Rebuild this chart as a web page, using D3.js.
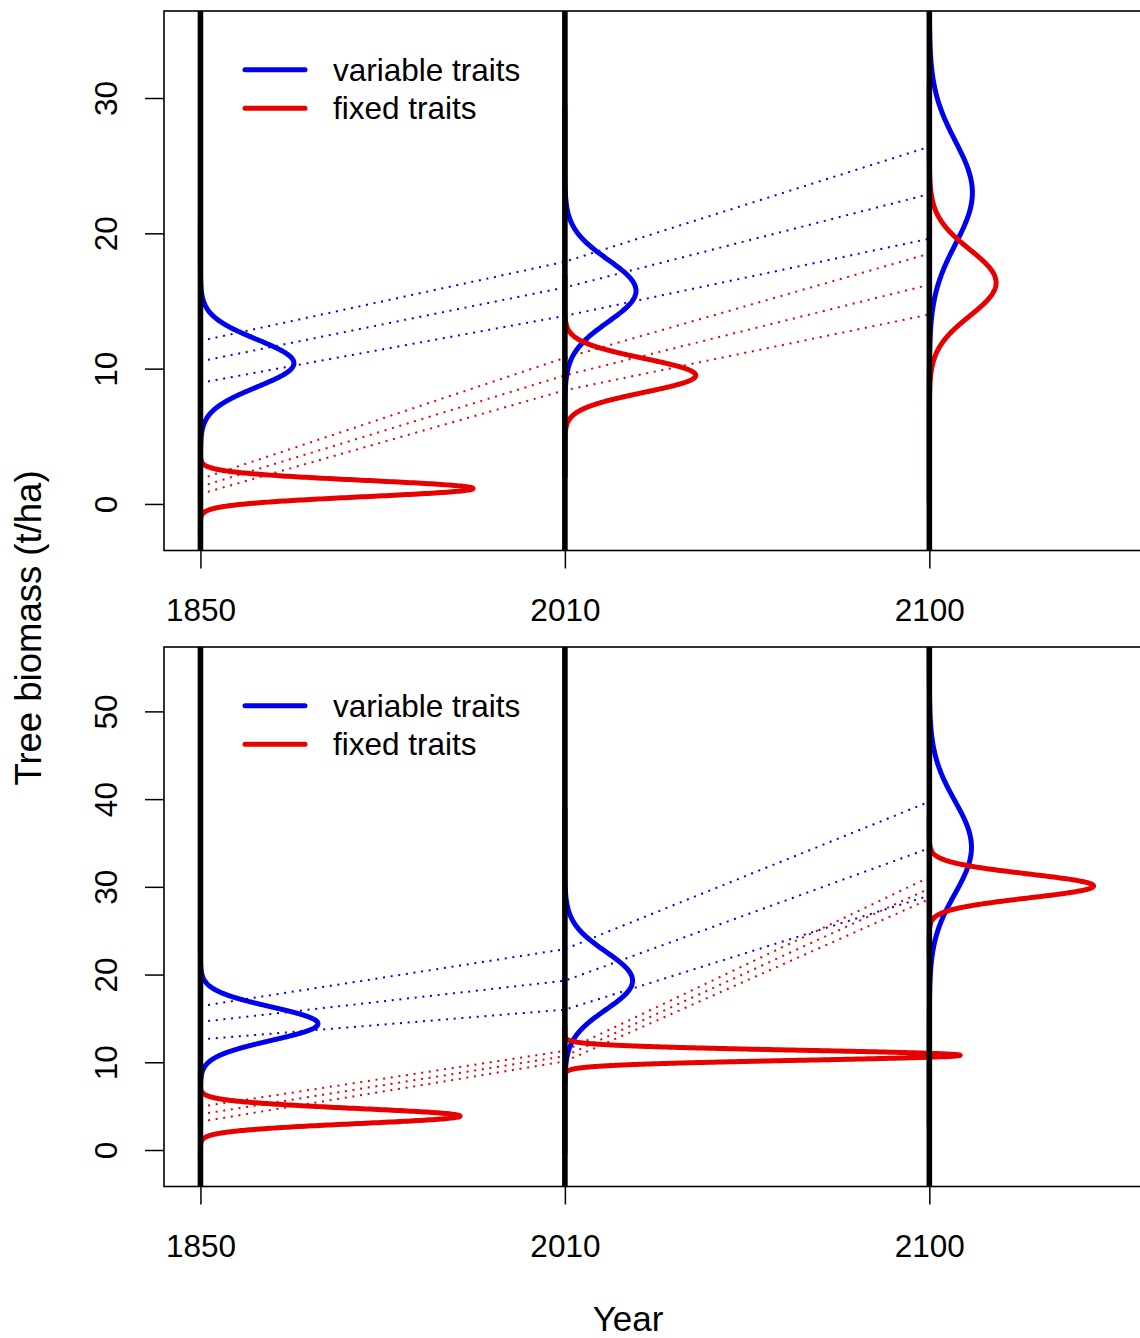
<!DOCTYPE html>
<html>
<head>
<meta charset="utf-8">
<script src="https://cdn.jsdelivr.net/npm/d3@7"></script>
<style>
body { margin: 0; background: #fff; }
text { font-family: "Liberation Sans", Arial, Helvetica, sans-serif; fill: #000; }
</style>
</head>
<body>
<div id="chart-area"></div>
<script>
// time points (drawn at equal spacing)
var years = ["1850", "2010", "2100"];
var seriesNames = ["variable traits", "fixed traits"];
var seriesColors = ["#0000ee", "#e60000"];

// top panel: distributions of tree biomass (t/ha), mean and sd per year
var topBlueMean = [10.4, 15.75, 23.0];
var topBlueSd = [1.75, 2.3, 3.8];
var topRedMean = [1.14, 9.5, 16.35];
var topRedSd = [0.6, 1.25, 2.45];
// quantile lines per year: [upper, middle, lower]
var topBlueQuant = [[12.05, 10.54, 8.95], [17.9, 16.0, 13.9], [26.4, 22.9, 19.6]];
var topRedQuant = [[1.85, 1.28, 0.74], [10.8, 9.5, 8.4], [18.5, 16.2, 14.0]];
var topTicks = [0, 10, 20, 30];
var topYlim = [-3.44, 36.43];
var topDensScale = 1.125;

// bottom panel
var botBlueMean = [14.4, 19.3, 34.5];
var botBlueSd = [1.9, 3.3, 5.3];
var botRedMean = [3.87, 10.8, 30.1];
var botRedSd = [0.86, 0.565, 1.36];
var botBlueQuant = [[16.4, 14.6, 12.6], [22.9, 19.3, 16.0], [39.7, 34.4, 29.0]];
var botRedQuant = [[4.94, 4.07, 3.23], [11.3, 10.7, 10.1], [31.1, 29.8, 28.6]];
var botTicks = [0, 10, 20, 30, 40, 50];
var botYlim = [-4.16, 57.34];
var botDensScale = 1.536;

var width = 1140, height = 1338;
var plotLeft = 164, plotRight = 1148;
var fontSize = 31.5;

var svg = d3.select("#chart-area").append("svg")
	.attr("width", width).attr("height", height);

var x = d3.scaleLinear().domain([0.9, 3.6]).range([plotLeft, plotRight]);

var panels = [
	{ top: 11, bottom: 550.5, ylim: topYlim, ticks: topTicks, k: topDensScale,
	  series: [
		{ mean: topBlueMean, sd: topBlueSd, quant: topBlueQuant },
		{ mean: topRedMean, sd: topRedSd, quant: topRedQuant } ] },
	{ top: 647, bottom: 1186.5, ylim: botYlim, ticks: botTicks, k: botDensScale,
	  series: [
		{ mean: botBlueMean, sd: botBlueSd, quant: botBlueQuant },
		{ mean: botRedMean, sd: botRedSd, quant: botRedQuant } ] }
];

function dnorm(v, m, s) {
	return Math.exp(-0.5 * ((v - m) / s) * ((v - m) / s)) / (s * Math.sqrt(2 * Math.PI));
}

panels.forEach((p, pi) => {
	var y = d3.scaleLinear().domain(p.ylim).range([p.bottom, p.top]);
	var g = svg.append("g");

	var clipId = "clip" + pi;
	g.append("clipPath").attr("id", clipId).append("rect")
		.attr("x", plotLeft).attr("y", p.top)
		.attr("width", plotRight - plotLeft).attr("height", p.bottom - p.top);

	var inner = g.append("g").attr("clip-path", "url(#" + clipId + ")");

	// dotted quantile lines between years
	p.series.forEach((s, si) => {
		for (var q = 0; q < 3; q++) {
			var pts = s.quant.map((d, t) => [x(t + 1), y(d[q])]);
			inner.append("path")
				.attr("d", d3.line()(pts))
				.attr("fill", "none")
				.attr("stroke", seriesColors[si])
				.attr("stroke-width", 2)
				.attr("stroke-dasharray", "2,5.7");
		}
	});

	// sideways density curves
	p.series.forEach((s, si) => {
		s.mean.forEach((m, t) => {
			var sd = s.sd[t];
			var vals = d3.range(m - 6 * sd, m + 6 * sd, sd / 40);
			var line = d3.line()
				.x(v => x(t + 1 + dnorm(v, m, sd) * p.k))
				.y(v => y(v));
			inner.append("path")
				.attr("d", line(vals))
				.attr("fill", "none")
				.attr("stroke", seriesColors[si])
				.attr("stroke-width", 5)
				.attr("stroke-linejoin", "round");
		});
	});

	// vertical year lines
	inner.selectAll(".yearline").data(years).enter().append("line")
		.attr("class", "yearline")
		.attr("x1", (d, i) => x(i + 1)).attr("x2", (d, i) => x(i + 1))
		.attr("y1", p.top).attr("y2", p.bottom)
		.attr("stroke", "#000").attr("stroke-width", 5.6);

	// box
	g.append("rect")
		.attr("x", plotLeft).attr("y", p.top)
		.attr("width", plotRight - plotLeft).attr("height", p.bottom - p.top)
		.attr("fill", "none").attr("stroke", "#000").attr("stroke-width", 1.6);

	// y axis
	var yAxisGroup = g.append("g").attr("transform", "translate(" + plotLeft + ",0)")
		.call(d3.axisLeft(y).tickValues(p.ticks).tickSize(19).tickFormat(d3.format("d")));
	yAxisGroup.select(".domain").remove();
	yAxisGroup.selectAll("line").attr("stroke-width", 1.5);
	yAxisGroup.selectAll("text")
		.attr("x", 0).attr("dy", 0)
		.attr("text-anchor", "middle")
		.attr("transform", "translate(-47,0) rotate(-90)")
		.attr("font-size", fontSize)
		.style("font-family", "'Liberation Sans', Arial, sans-serif");

	// x axis
	var xAxisGroup = g.append("g").attr("transform", "translate(0," + p.bottom + ")")
		.call(d3.axisBottom(x).tickValues([1, 2, 3]).tickSize(18).tickPadding(30)
			.tickFormat((d, i) => years[i]));
	xAxisGroup.select(".domain").remove();
	xAxisGroup.selectAll("line").attr("stroke-width", 1.5);
	xAxisGroup.selectAll("text")
		.attr("font-size", fontSize)
		.style("font-family", "'Liberation Sans', Arial, sans-serif");

	// legend
	var legend = g.append("g").attr("transform", "translate(245," + (p.top + 58.8) + ")");
	seriesNames.forEach((name, i) => {
		var row = legend.append("g").attr("transform", "translate(0," + (i * 38.5) + ")");
		row.append("line").attr("x1", 0).attr("x2", 60).attr("y1", 0).attr("y2", 0)
			.attr("stroke", seriesColors[i]).attr("stroke-width", 5)
			.attr("stroke-linecap", "round");
		row.append("text").attr("x", 88).attr("y", 0).attr("dy", "0.35em")
			.attr("font-size", fontSize).text(name);
	});
});

// axis titles
svg.append("text")
	.attr("x", 628).attr("y", 1331)
	.attr("text-anchor", "middle").attr("font-size", 35)
	.text("Year");

svg.append("text")
	.attr("transform", "translate(41,628) rotate(-90)")
	.attr("text-anchor", "middle").attr("font-size", 36.5)
	.text("Tree biomass (t/ha)");
</script>
</body>
</html>
